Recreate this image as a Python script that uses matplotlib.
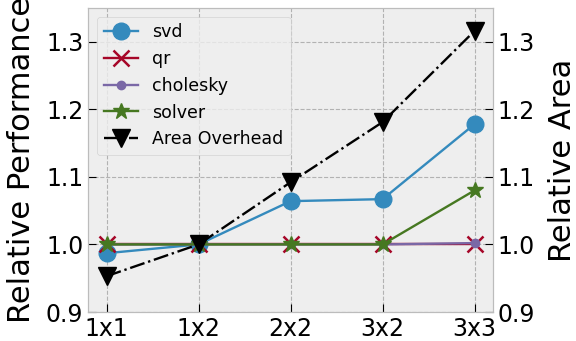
import matplotlib
matplotlib.use("Agg")
import matplotlib.pyplot as plt

categories = ["1x1", "1x2", "2x2", "3x2", "3x3"]
svd = [0.987, 1.0, 1.064, 1.067, 1.178]
qr = [1.0, 1.0, 1.0, 1.0, 1.0]
cholesky = [1.0, 1.0, 1.0, 1.0, 1.002]
solver = [1.0, 1.0, 1.0, 1.0, 1.080]
area = [0.953, 1.0, 1.092, 1.181, 1.316]
yticks = [0.9, 1.0, 1.1, 1.2, 1.3]

plt.style.use("bmh")
plt.rcParams["font.family"] = ["DejaVu Sans"]
plt.rcParams["xtick.major.size"] = 6
plt.rcParams["ytick.major.size"] = 6
plt.rcParams["grid.linewidth"] = 0.8

fig = plt.figure(figsize=(5.76, 3.41), dpi=100)
ax = fig.add_axes([0.153, 0.085, 0.703, 0.892])
x = list(range(len(categories)))

l1, = ax.plot(x, svd, marker="o", markersize=12, lw=1.7, color="#348ABD", label="svd")
l2, = ax.plot(x, qr, marker="x", markersize=11, mew=1.8, lw=1.7, color="#A60628", label="qr")
l3, = ax.plot(x, cholesky, marker="o", markersize=6, lw=1.7, color="#7A68A6", label="cholesky")
l4, = ax.plot(x, solver, marker="*", markersize=12, lw=1.7, color="#467821", label="solver")

ax.set_xlim(-0.2, 4.2)
ax.set_ylim(0.9, 1.35)
ax.set_xticks(x)
ax.set_xticklabels(categories, fontsize=17)
ax.set_yticks(yticks)
ax.set_yticklabels([f"{v:.1f}" for v in yticks], fontsize=17)
ax.set_ylabel("Relative Performance", fontsize=22, labelpad=7)
ax.tick_params(axis="both", colors="black", labelcolor="black")

ax2 = ax.twinx()
l5, = ax2.plot(x, area, marker="v", markersize=13, lw=1.7, ls="-.", color="black", label="Area Overhead")
ax2.set_ylim(0.9, 1.35)
ax2.set_yticks(yticks)
ax2.set_yticklabels([f"{v:.1f}" for v in yticks], fontsize=17)
ax2.set_ylabel("Relative Area", fontsize=22, labelpad=9)
ax2.grid(False)
ax2.tick_params(axis="y", colors="black", labelcolor="black")

ax2.legend(handles=[l1, l2, l3, l4, l5], loc="upper left", fontsize=12.5)

fig.savefig("out.png", dpi=100)
